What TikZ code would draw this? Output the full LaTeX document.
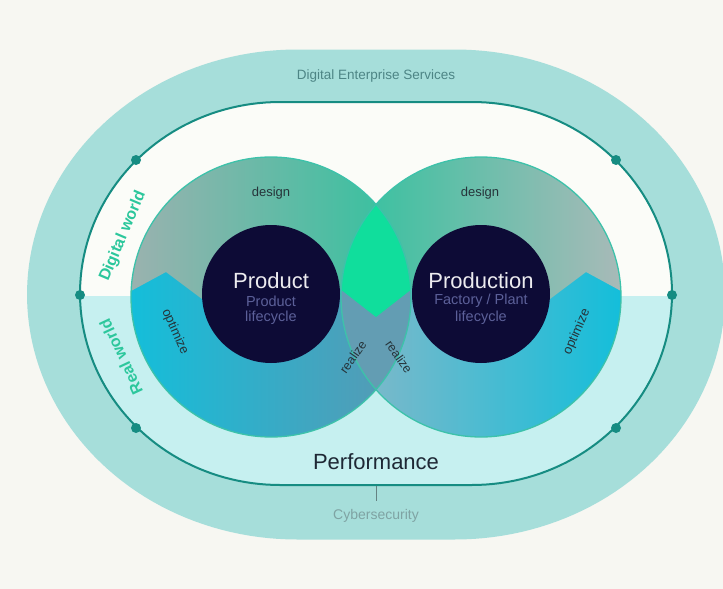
\documentclass[tikz,border=0pt]{standalone}
\usepackage{fontspec}
\setmainfont{Liberation Sans}
\definecolor{bg}{HTML}{F7F7F2}
\definecolor{ring}{HTML}{A6DEDA}
\definecolor{innerlow}{HTML}{C6F0F0}
\definecolor{innertop}{HTML}{FBFCF8}
\definecolor{linec}{HTML}{168C82}
\definecolor{navy}{HTML}{0D0B36}
\definecolor{subtxt}{HTML}{5C6099}
\definecolor{lensgreen}{HTML}{10DE9C}
\definecolor{lensblue}{HTML}{639DB3}
\definecolor{cyanA}{HTML}{14BEDA}
\definecolor{cyanM}{HTML}{2EA8C8}
\definecolor{blueB}{HTML}{5A98B2}
\definecolor{greyR}{HTML}{86B8C8}
\definecolor{greyT}{HTML}{9AB2AF}
\definecolor{tealT}{HTML}{30C29E}
\definecolor{greyTR}{HTML}{A8BAB8}
\definecolor{worldc}{HTML}{2CC79C}
\definecolor{perf}{HTML}{1E2835}
\definecolor{desc}{HTML}{4D8585}
\definecolor{cyber}{HTML}{7FA3A3}
\definecolor{circline}{HTML}{3DC2AA}
\definecolor{lbl}{HTML}{26343A}
\tikzset{
  dotnode/.style={circle, fill=linec, inner sep=0pt, minimum size=10pt},
  cyclelbl/.style={text=lbl, font=\fontsize{13}{15}\selectfont, inner sep=0pt},
  worldlbl/.style={text=worldc, font=\bfseries\fontsize{16}{18}\selectfont, inner sep=0pt},
  coretitle/.style={text=white!92!navy, font=\fontsize{22}{24}\selectfont, inner sep=0pt},
  coresub/.style={text=subtxt, font=\fontsize{14.5}{16}\selectfont, inner sep=0pt},
}
\begin{document}
\begin{tikzpicture}[x=1pt,y=-1pt]
\useasboundingbox (0,0) rectangle (723,589);
\fill[bg] (0,0) rectangle (723,589);
% outer ring: flat top/bottom with elliptic caps
\fill[ring] plot[domain=-90:90, samples=90] ({455+270*cos(\x)}, {294.5+245*sin(\x)})
  -- plot[domain=90:270, samples=90] ({297+270*cos(\x)}, {294.5+245*sin(\x)}) -- cycle;
% inner area
\fill[innerlow] plot[domain=-90:90, samples=90] ({472+200*cos(\x)}, {293.5+191.5*sin(\x)})
  -- plot[domain=90:270, samples=90] ({280+200*cos(\x)}, {293.5+191.5*sin(\x)}) -- cycle;
\begin{scope}
\clip (0,0) rectangle (723,295);
\fill[innertop] plot[domain=-90:90, samples=90] ({472+200*cos(\x)}, {293.5+191.5*sin(\x)})
  -- plot[domain=90:270, samples=90] ({280+200*cos(\x)}, {293.5+191.5*sin(\x)}) -- cycle;
\end{scope}
\draw[linec, line width=2pt] plot[domain=-90:90, samples=90] ({472+200*cos(\x)}, {293.5+191.5*sin(\x)})
  -- plot[domain=90:270, samples=90] ({280+200*cos(\x)}, {293.5+191.5*sin(\x)}) -- cycle;
% dots
\node[dotnode] (d1) at (80,295) {};
\node[dotnode] (d2) at (672,295) {};
\node[dotnode] (d3) at (136,160) {};
\node[dotnode] (d4) at (616,160) {};
\node[dotnode] (d5) at (136,428) {};
\node[dotnode] (d6) at (616,428) {};
% bottom parts of big circles
\shade[left color=cyanA, middle color=cyanM, right color=blueB] (271,297) circle[radius=140];
\shade[left color=greyR, middle color=cyanM!80!greyR, right color=cyanA] (481,297) circle[radius=140];
% top parts
\begin{scope}
\clip (110,291) -- (131,291) -- (166,272) -- (210,305) -- (271,310) -- (335,285) -- (376,317)
  -- (417,285) -- (481,310) -- (542,305) -- (586,272) -- (621,291) -- (642,291) -- (642,140) -- (110,140) -- cycle;
\shade[left color=greyT, right color=tealT] (271,297) circle[radius=140];
\shade[left color=tealT, right color=greyTR] (481,297) circle[radius=140];
\end{scope}
% lens
\begin{scope}
\clip (271,297) circle[radius=140];
\fill[lensblue] (481,297) circle[radius=140];
\begin{scope}
\clip (110,291) -- (131,291) -- (166,272) -- (210,305) -- (271,310) -- (335,285) -- (376,317)
  -- (417,285) -- (481,310) -- (542,305) -- (586,272) -- (621,291) -- (642,291) -- (642,140) -- (110,140) -- cycle;
\fill[lensgreen] (481,297) circle[radius=140];
\end{scope}
\end{scope}
% outlines
\draw[circline, line width=1.3pt] (271,297) circle[radius=140];
\draw[circline, line width=1.3pt] (481,297) circle[radius=140];
% cores
\fill[navy] (271,294) circle[radius=69];
\fill[navy] (481,294) circle[radius=69];
\node[coretitle] (prodt) at (271,281) {Product};
\node[coresub] (prods1) at (271,301) {Product};
\node[coresub] (prods2) at (271,318) {lifecycle};
\node[coretitle] (prodnt) at (481,281) {Production};
\node[coresub] (prodns1) at (481,301) {Factory / Plant};
\node[coresub] (prodns2) at (481,318) {lifecycle};
% cycle labels
\node[cyclelbl] (des1) at (271,193) {design};
\node[cyclelbl] (des2) at (480,193) {design};
\node[cyclelbl, rotate=-66] (opt1) at (175,332) {optimize};
\node[cyclelbl, rotate=66] (opt2) at (577,332) {optimize};
\node[cyclelbl, rotate=55, font=\fontsize{12.5}{14}\selectfont] (rea1) at (353,357) {realize};
\node[cyclelbl, rotate=-55, font=\fontsize{12.5}{14}\selectfont] (rea2) at (399,357) {realize};
% world labels
\node[worldlbl, rotate=67] (dw) at (123,236) {Digital world};
\node[worldlbl, rotate=115] (rw) at (121,357) {Real world};
% ring texts
\node[text=desc, font=\fontsize{13.5}{15}\selectfont] (des) at (376,76) {Digital Enterprise Services};
\node[text=perf, font=\fontsize{22}{24}\selectfont] (perfn) at (376,462) {Performance};
\node[text=cyber, font=\fontsize{14}{16}\selectfont] (cyb) at (376,516) {Cybersecurity};
\coordinate (tickA) at (376,486);
\coordinate (tickB) at (376,501);
\draw[cyber!80!black, line width=1pt] (tickA) -- (tickB);
\end{tikzpicture}
\end{document}
